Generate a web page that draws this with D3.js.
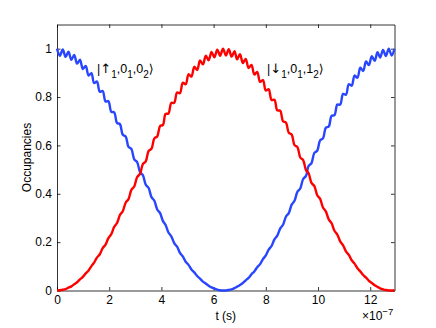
<!DOCTYPE html>
<html lang="en">
<head>
<meta charset="UTF-8">
<title>Occupancies</title>
<script src="https://d3js.org/d3.v7.min.js"></script>
<style>
    body { margin: 0; background: #fff; }
    svg text { font-family: "Liberation Sans", Arial, sans-serif; fill: #000; }
    .axis path, .axis line { stroke: #000; stroke-width: 0.8; }
    .axis text { font-size: 12px; }
</style>
</head>
<body>
<script>
    // time in units of 1e-7 s
    const t = [0, 0.11, 0.22, 0.33, 0.44, 0.55, 0.66, 0.77, 0.88, 0.99,
        1.10, 1.21, 1.32, 1.42, 1.53, 1.64, 1.75, 1.86, 1.97, 2.08,
        2.19, 2.30, 2.41, 2.52, 2.63, 2.74, 2.85, 2.96, 3.07, 3.18,
        3.29, 3.40, 3.51, 3.62, 3.73, 3.84, 3.95, 4.06, 4.16, 4.27,
        4.38, 4.49, 4.60, 4.71, 4.82, 4.93, 5.04, 5.15, 5.26, 5.37,
        5.48, 5.59, 5.70, 5.81, 5.92, 6.03, 6.14, 6.25, 6.36, 6.47,
        6.58, 6.69, 6.80, 6.90, 7.01, 7.12, 7.23, 7.34, 7.45, 7.56,
        7.67, 7.78, 7.89, 8.00, 8.11, 8.22, 8.33, 8.44, 8.55, 8.66,
        8.77, 8.88, 8.99, 9.10, 9.21, 9.32, 9.43, 9.54, 9.64, 9.75,
        9.86, 9.97, 10.08, 10.19, 10.30, 10.41, 10.52, 10.63, 10.74, 10.85,
        10.96, 11.07, 11.18, 11.29, 11.40, 11.51, 11.62, 11.73, 11.84, 11.95,
        12.06, 12.17, 12.28, 12.38, 12.49, 12.60, 12.71, 12.82, 12.93];

    // |up,0,0> occupancy (blue)
    const upState = [1.000, 0.971, 0.997, 0.966, 0.988, 0.954, 0.974, 0.938, 0.954, 0.916,
        0.929, 0.889, 0.899, 0.858, 0.864, 0.822, 0.825, 0.782, 0.783, 0.739,
        0.737, 0.693, 0.688, 0.644, 0.637, 0.594, 0.585, 0.542, 0.531, 0.490,
        0.477, 0.438, 0.424, 0.386, 0.371, 0.335, 0.320, 0.287, 0.271, 0.240,
        0.224, 0.196, 0.181, 0.156, 0.141, 0.119, 0.106, 0.087, 0.075, 0.060,
        0.049, 0.037, 0.029, 0.020, 0.013, 0.008, 0.004, 0.001, 0.000, 0.000,
        0.002, 0.005, 0.010, 0.016, 0.023, 0.031, 0.042, 0.052, 0.067, 0.079,
        0.096, 0.109, 0.130, 0.145, 0.169, 0.184, 0.211, 0.227, 0.256, 0.272,
        0.305, 0.320, 0.355, 0.371, 0.408, 0.422, 0.461, 0.474, 0.515, 0.527,
        0.569, 0.578, 0.621, 0.629, 0.673, 0.678, 0.722, 0.725, 0.769, 0.769,
        0.813, 0.810, 0.853, 0.847, 0.889, 0.880, 0.921, 0.908, 0.947, 0.932,
        0.969, 0.950, 0.985, 0.963, 0.995, 0.970, 1.000, 0.972, 0.999];

    // |down,0,1> occupancy (red)
    const downState = [0.000, 0.001, 0.003, 0.006, 0.012, 0.017, 0.026, 0.034, 0.046, 0.056,
        0.071, 0.083, 0.101, 0.115, 0.136, 0.150, 0.175, 0.190, 0.217, 0.233,
        0.263, 0.279, 0.312, 0.328, 0.363, 0.378, 0.416, 0.430, 0.469, 0.482,
        0.523, 0.534, 0.577, 0.586, 0.629, 0.637, 0.680, 0.685, 0.730, 0.732,
        0.776, 0.776, 0.819, 0.816, 0.859, 0.853, 0.894, 0.885, 0.925, 0.912,
        0.951, 0.935, 0.971, 0.952, 0.987, 0.964, 0.996, 0.971, 1.000, 0.972,
        0.998, 0.967, 0.990, 0.956, 0.977, 0.941, 0.958, 0.920, 0.933, 0.893,
        0.904, 0.863, 0.870, 0.827, 0.832, 0.788, 0.789, 0.745, 0.744, 0.700,
        0.695, 0.652, 0.645, 0.601, 0.593, 0.550, 0.539, 0.498, 0.485, 0.445,
        0.432, 0.394, 0.379, 0.343, 0.327, 0.294, 0.278, 0.247, 0.231, 0.203,
        0.187, 0.162, 0.147, 0.125, 0.111, 0.092, 0.079, 0.064, 0.053, 0.040,
        0.031, 0.022, 0.015, 0.009, 0.005, 0.002, 0.000, 0.000, 0.001];

    const xTicks = [0, 2, 4, 6, 8, 10, 12];
    const yTicks = [0, 0.2, 0.4, 0.6, 0.8, 1];

    const W = 436, H = 328;
    const mLeft = 57, mRight = 394.5, mTop = 24.5, mBottom = 290.5;

    const svg = d3.select("body").append("svg")
        .attr("width", W)
        .attr("height", H);

    const x = d3.scaleLinear().domain([0, 12.93]).range([mLeft, mRight]);
    const y = d3.scaleLinear().domain([0, 1.1]).range([mBottom, mTop]);

    // axes with inward ticks, mirrored on top/right
    svg.append("g").attr("class", "axis")
        .attr("transform", "translate(0," + mBottom + ")")
        .call(d3.axisBottom(x).tickValues(xTicks).tickSizeInner(-3.5).tickSizeOuter(0).tickPadding(5)
            .tickFormat(d3.format("d")));
    svg.append("g").attr("class", "axis")
        .attr("transform", "translate(0," + mTop + ")")
        .call(d3.axisTop(x).tickValues(xTicks).tickSizeInner(-3.5).tickSizeOuter(0).tickFormat(""));
    svg.append("g").attr("class", "axis")
        .attr("transform", "translate(" + mLeft + ",0)")
        .call(d3.axisLeft(y).tickValues(yTicks).tickSizeInner(-3.5).tickSizeOuter(0).tickPadding(5)
            .tickFormat(d => d === 0 || d === 1 ? d : d.toFixed(1)));
    svg.append("g").attr("class", "axis")
        .attr("transform", "translate(" + mRight + ",0)")
        .call(d3.axisRight(y).tickValues(yTicks).tickSizeInner(-3.5).tickSizeOuter(0).tickFormat(""));

    const line = d3.line()
        .x(d => x(d[0]))
        .y(d => y(d[1]))
        .curve(d3.curveCatmullRom);

    svg.append("path")
        .datum(t.map((v, i) => [v, upState[i]]))
        .attr("d", line)
        .attr("fill", "none")
        .attr("stroke", "#2846ff")
        .attr("stroke-width", 2.4);

    svg.append("path")
        .datum(t.map((v, i) => [v, downState[i]]))
        .attr("d", line)
        .attr("fill", "none")
        .attr("stroke", "#ff0000")
        .attr("stroke-width", 2.4);

    // labels
    svg.append("text")
        .attr("x", (mLeft + mRight) / 2)
        .attr("y", 320)
        .attr("text-anchor", "middle")
        .style("font-size", "12px")
        .text("t (s)");

    svg.append("text")
        .attr("transform", "translate(31," + ((mTop + mBottom) / 2) + ") rotate(-90)")
        .attr("text-anchor", "middle")
        .style("font-size", "12px")
        .text("Occupancies");

    const mult = svg.append("text")
        .attr("x", 362)
        .attr("y", 320)
        .style("font-size", "12px");
    mult.append("tspan").text("×10");
    mult.append("tspan").attr("dy", -5).style("font-size", "9.5px").text("−7");

    function ket(xp, yp, arrow, a, b) {
        const k = svg.append("text")
            .attr("x", xp)
            .attr("y", yp)
            .style("font-size", "12.5px");
        k.append("tspan").text("|");
        k.append("tspan").style("font-family", "DejaVu Sans").style("font-size", "13px").text(arrow);
        k.append("tspan").attr("dy", 5).style("font-size", "10px").text(a);
        k.append("tspan").attr("dy", -5).text(",0");
        k.append("tspan").attr("dy", 5).style("font-size", "10px").text("1");
        k.append("tspan").attr("dy", -5).text("," + b);
        k.append("tspan").attr("dy", 5).style("font-size", "10px").text("2");
        k.append("tspan").attr("dy", -5).style("font-family", "DejaVu Sans").text("⟩");
    }
    ket(97, 73, "↑", "1", "0");
    ket(267, 73, "↓", "1", "1");
</script>
</body>
</html>
